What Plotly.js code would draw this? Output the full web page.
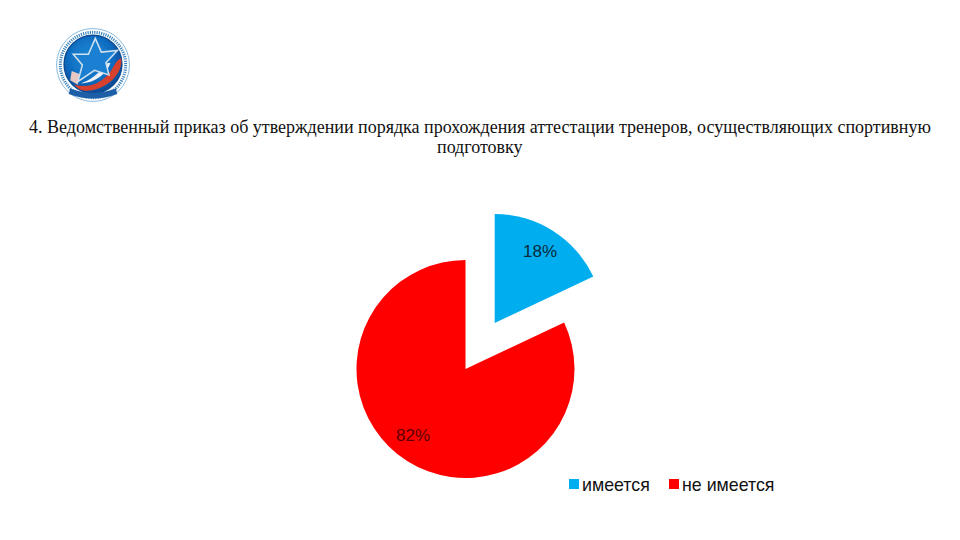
<!DOCTYPE html>
<html><head><meta charset="utf-8">
<script src="https://cdn.plot.ly/plotly-3.0.1.min.js"></script>
<style>html,body{margin:0;padding:0;background:#fff}#c{width:960px;height:540px}</style>
</head><body><div id="c"></div>
<script>
const categories = ["имеется", "не имеется"];
const values = [18, 82];
const sliceColors = ["#00AEEF", "#FF0000"];
const pullBySlice = [0.5, 0];
const titleLines = ["4. Ведомственный приказ об утверждении порядка прохождения аттестации тренеров, осуществляющих спортивную", "подготовку"];

const logoSvg = `<svg xmlns="http://www.w3.org/2000/svg" width="300" height="300" viewBox="0 0 100 100">
<defs><radialGradient id="g" cx="45%" cy="40%" r="60%"><stop offset="0" stop-color="#1f8fd8"/><stop offset="0.65" stop-color="#0f6cc0"/><stop offset="1" stop-color="#0b4a94"/></radialGradient>
<filter id="b"><feGaussianBlur stdDeviation="0.7"/></filter></defs>
<g filter="url(#b)">
<circle cx="50" cy="50" r="48" fill="#fff" stroke="#3d8cc8" stroke-width="0.8"/>
<circle cx="50" cy="50" r="43" fill="none" stroke="#3f86bf" stroke-width="4" stroke-dasharray="1.6 1.4"/>
<circle cx="50" cy="49" r="38" fill="url(#g)" stroke="#0a4d96" stroke-width="2"/>
<path d="M87 41 C90 60 70 82 42 84 C34 84 28 80 26 76 C46 82 68 72 78 50 C81 45 84 42 87 41Z" fill="#d8402f"/>
<path d="M73 47 C68 62 52 74 34 74 C46 70 58 62 66 48Z" fill="#eef1f5"/>
<path d="M22 58 L32 62 L30 76 L20 70Z" fill="#e9c8c4"/>
<path d="M53 15 L61 33 L82 31 L67 47 L71 63 L52 57 L30 72 L36 50 L24 36 L44 36Z" fill="#1a80d2" stroke="#cfe0ef" stroke-width="2"/>
<path d="M18 88 Q50 100 82 88 L80 81 Q50 92 20 81Z" fill="#1c5fa6"/>
</g></svg>`;

const data = [{
  type: "pie",
  labels: categories,
  values: values,
  sort: false,
  direction: "clockwise",
  rotation: 0,
  pull: pullBySlice,
  marker: {colors: sliceColors, line: {width: 0}},
  textinfo: "none",
  hoverinfo: "label+percent",
  domain: {x: [302/960, 629/960], y: [7.5/540, 334.5/540]}
}];

const total = values.reduce((a, b) => a + b, 0);
const pct = values.map(v => Math.round(v / total * 100) + "%");

const paperText = (text, px, py, size, color, anchor, family) => ({
  text, x: px/960, y: 1 - py/540, xref: "paper", yref: "paper", showarrow: false,
  xanchor: anchor, yanchor: "middle", font: {size, color, family}
});
const sans = "Liberation Sans, Arial, sans-serif";
const serif = "Liberation Serif, Times New Roman, serif";

const swatch = (color, px) => ({
  type: "rect", xref: "paper", yref: "paper", line: {width: 0}, fillcolor: color,
  x0: px/960, x1: (px + 10)/960, y0: 1 - 489/540, y1: 1 - 479/540
});

const layout = {
  width: 960, height: 540,
  margin: {l: 0, r: 0, t: 0, b: 0},
  paper_bgcolor: "#fff",
  font: {family: sans, color: "#111"},
  title: {
    text: titleLines[0],
    font: {family: serif, size: 18, color: "#111"},
    x: 0.5, xanchor: "center", xref: "paper",
    y: 1 - 127/540, yanchor: "middle", yref: "container"
  },
  showlegend: false,
  shapes: [swatch(sliceColors[0], 569), swatch(sliceColors[1], 669)],
  annotations: [
    paperText(titleLines[1], 480, 147, 18, "#111", "center", serif),
    paperText(pct[0], 540, 251, 17, "#0b2a3a", "center", sans),
    paperText(pct[1], 413, 435, 17, "#5a0000", "center", sans),
    paperText(categories[0], 580, 485, 17.8, "#111", "left", sans),
    paperText(categories[1], 680, 485, 17.8, "#111", "left", sans)
  ],
  images: [{
    source: "data:image/svg+xml;utf8," + encodeURIComponent(logoSvg),
    xref: "paper", yref: "paper",
    x: 55/960, y: 1 - 27/540, sizex: 76/960, sizey: 76/540,
    xanchor: "left", yanchor: "top", layer: "above"
  }]
};
Plotly.newPlot("c", data, layout, {displayModeBar: false, staticPlot: true});
</script></body></html>
